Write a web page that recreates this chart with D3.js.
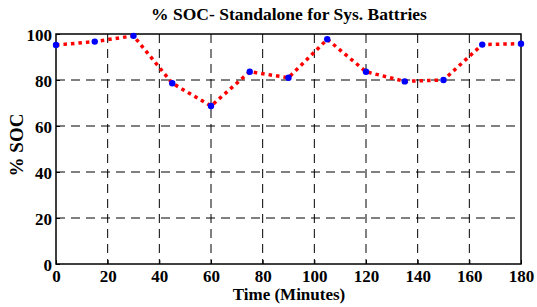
<!DOCTYPE html>
<html>
<head>
<meta charset="utf-8">
<script src="https://cdn.jsdelivr.net/npm/d3@7"></script>
<style>
  body { margin: 0; background: #fff; }
</style>
</head>
<body>
<div id="chart"></div>
<script>
// data
const timeMinutes = [0, 15, 30, 45, 60, 75, 90, 105, 120, 135, 150, 165, 180];
const socValues   = [95.2, 96.7, 99.2, 78.6, 68.7, 83.6, 81.0, 97.7, 83.6, 79.4, 80.0, 95.4, 95.8];
const xTicks = [0, 20, 40, 60, 80, 100, 120, 140, 160, 180];
const yTicks = [0, 20, 40, 60, 80, 100];

const FONT = 'Liberation Serif';

const dimensions = {
  width: 537,
  height: 307,
  margin: { top: 34, right: 16, bottom: 43, left: 56 }
};
dimensions.ctrWidth = dimensions.width - dimensions.margin.left - dimensions.margin.right;
dimensions.ctrHeight = dimensions.height - dimensions.margin.top - dimensions.margin.bottom;

const svg = d3.select('#chart')
  .append('svg')
  .attr('width', dimensions.width)
  .attr('height', dimensions.height);

const ctr = svg.append('g')
  .attr('transform', `translate(${dimensions.margin.left}, ${dimensions.margin.top})`);

const xScale = d3.scaleLinear().domain([0, 180]).range([0, dimensions.ctrWidth]);
const yScale = d3.scaleLinear().domain([0, 100]).range([dimensions.ctrHeight, 0]);

// grid
ctr.append('g')
  .selectAll('line')
  .data(xTicks.slice(1, -1))
  .join('line')
  .attr('x1', d => xScale(d)).attr('x2', d => xScale(d))
  .attr('y1', 0).attr('y2', dimensions.ctrHeight)
  .attr('stroke', '#000').attr('stroke-width', 1)
  .attr('stroke-dasharray', '9,6');

ctr.append('g')
  .selectAll('line')
  .data(yTicks.slice(1, -1))
  .join('line')
  .attr('y1', d => yScale(d)).attr('y2', d => yScale(d))
  .attr('x1', 0).attr('x2', dimensions.ctrWidth)
  .attr('stroke', '#000').attr('stroke-width', 1)
  .attr('stroke-dasharray', '9,6');

// axes
const xAxis = d3.axisBottom(xScale).tickValues(xTicks).tickSize(-4).tickPadding(6);
const yAxis = d3.axisLeft(yScale).tickValues(yTicks).tickSize(-4).tickPadding(4);

const xg = ctr.append('g')
  .attr('transform', `translate(0, ${dimensions.ctrHeight})`)
  .call(xAxis);
const yg = ctr.append('g').call(yAxis);

[xg, yg].forEach(g => {
  g.attr('font-family', FONT).attr('font-size', 17).attr('font-weight', 'bold');
  g.select('.domain').remove();
  g.selectAll('.tick line').attr('stroke', '#000');
  g.selectAll('text').attr('fill', '#000');
});
yg.selectAll('text').attr('dy', '0.4em');

// frame
ctr.append('rect')
  .attr('width', dimensions.ctrWidth)
  .attr('height', dimensions.ctrHeight)
  .attr('fill', 'none')
  .attr('stroke', '#000')
  .attr('stroke-width', 1.5);

// series
const line = d3.line()
  .x((d, i) => xScale(timeMinutes[i]))
  .y(d => yScale(d));

ctr.append('path')
  .datum(socValues)
  .attr('d', line)
  .attr('fill', 'none')
  .attr('stroke', '#ff0000')
  .attr('stroke-width', 3.5)
  .attr('stroke-dasharray', '3.5,4');

ctr.selectAll('circle')
  .data(socValues)
  .join('circle')
  .attr('cx', (d, i) => xScale(timeMinutes[i]))
  .attr('cy', d => yScale(d))
  .attr('r', 3.2)
  .attr('fill', '#0000ff');

// labels
svg.append('text')
  .attr('x', 289).attr('y', 20)
  .attr('text-anchor', 'middle')
  .attr('font-family', FONT).attr('font-weight', 'bold')
  .attr('font-size', 17.5)
  .text('% SOC- Standalone for Sys. Battries');

svg.append('text')
  .attr('x', 289)
  .attr('y', 300)
  .attr('text-anchor', 'middle')
  .attr('font-family', FONT).attr('font-weight', 'bold')
  .attr('font-size', 17)
  .text('Time (Minutes)');

svg.append('text')
  .attr('transform', 'translate(23, 145) rotate(-90)')
  .attr('text-anchor', 'middle')
  .attr('font-family', FONT).attr('font-weight', 'bold')
  .attr('font-size', 19)
  .text('% SOC');
</script>
</body>
</html>
